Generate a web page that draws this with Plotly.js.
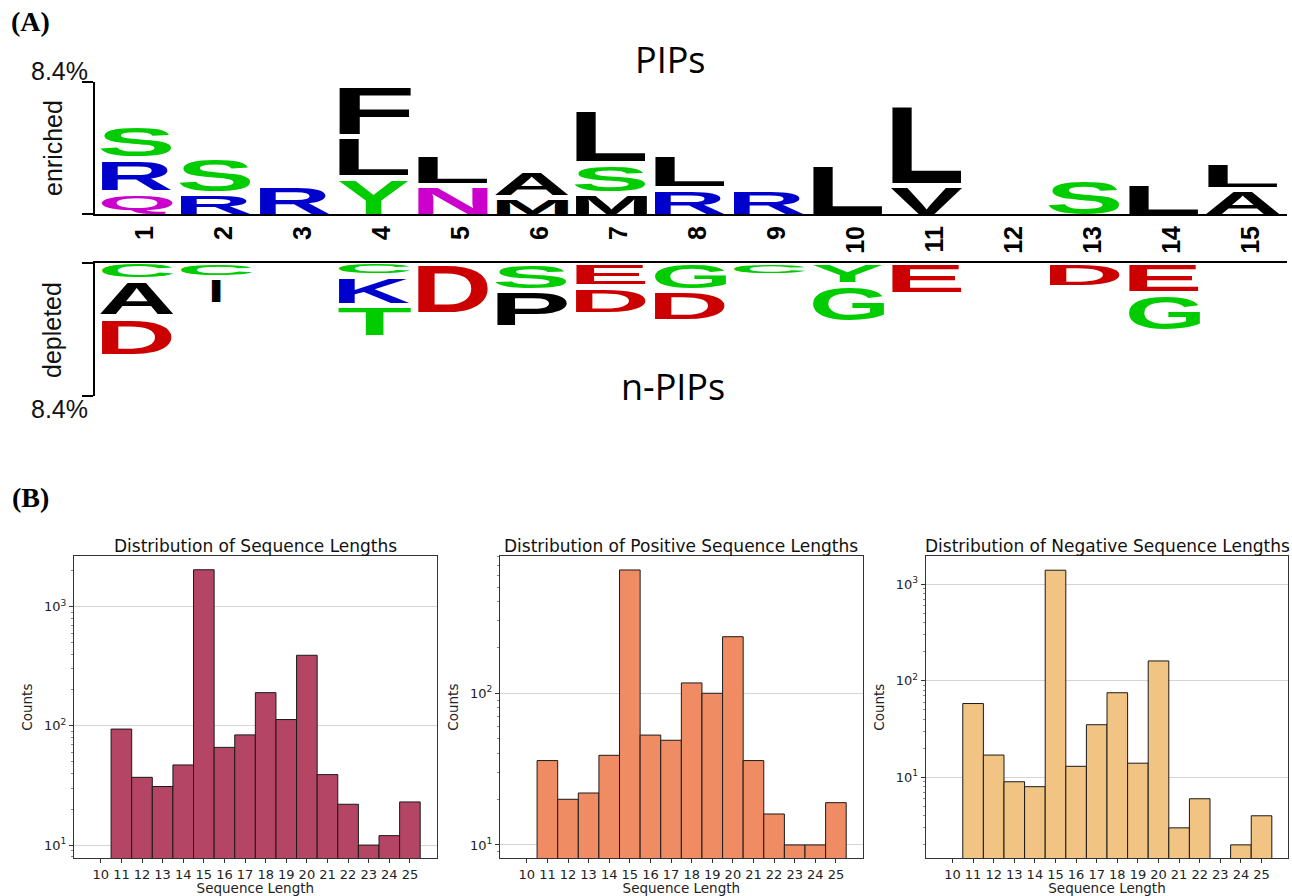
<!DOCTYPE html>
<html>
<head>
<meta charset="utf-8">
<script src="https://cdn.plot.ly/plotly-3.0.1.min.js"></script>
<style>
html,body{margin:0;padding:0;background:#fff;}
#chart{width:1292px;height:896px;}
</style>
</head>
<body>
<div id="chart"></div>
<script>
// ---------------- DATA ----------------
// (A) sequence logo: positions, letters stacked from the baseline outward, heights in %
const positions = [1, 2, 3, 4, 5, 6, 7, 8, 9, 10, 11, 12, 13, 14, 15];
const positionLabels = ['1','2','3','4','5','6','7','8','9','10','11','12','13','14','15'];
const logoMax = 8.4;
const logoMaxLabel = '8.4%';

const enrichedLetters = [
  ['Q','R','S'], ['R','S'], ['R'], ['Y','L','F'], ['N','L'], ['M','A'], ['M','S','L'],
  ['R','L'], ['R'], ['L'], ['V','L'], [], ['S'], ['L'], ['A','L']
];
const enrichedHeights = [
  [1.37, 2.17, 2.19], [1.31, 2.29], [1.81], [2.30, 2.65, 3.32], [1.79, 1.99], [1.05, 1.71],
  [1.31, 1.91, 3.46], [1.58, 2.24], [1.59], [3.18], [1.79, 5.21], [], [2.23], [2.02], [1.53, 1.76]
];
const depletedLetters = [
  ['C','A','D'], ['C','I'], [], ['C','K','T'], ['D'], ['S','P'], ['E','D'],
  ['G','D'], ['C'], ['Y','G'], ['E'], [], ['D'], ['E','G'], []
];
const depletedHeights = [
  [1.06, 2.33, 2.50], [0.90, 1.71], [], [0.80, 1.86, 2.02], [3.25], [1.70, 2.40], [1.49, 1.77],
  [1.72, 1.95], [0.77], [1.35, 2.43], [1.98], [], [1.55], [1.91, 2.40], []
];

// (B) histograms of sequence lengths
const lengths = [11, 12, 13, 14, 15, 16, 17, 18, 19, 20, 21, 22, 23, 24, 25];
const lengthTicks = [10, 11, 12, 13, 14, 15, 16, 17, 18, 19, 20, 21, 22, 23, 24, 25];
const totalCounts    = [94, 37, 31, 47, 2040, 66, 84, 190, 113, 391, 39, 22, 10, 12, 23];
const positiveCounts = [36, 20, 22, 39, 650, 53, 49, 117, 100, 236, 36, 16, 10, 10, 19];
const negativeCounts = [58, 17, 9, 8, 1390, 13, 35, 75, 14, 160, 3, 6, null, 2, 4];
const countTickVals = [10, 100, 1000];
const countTickText = ['10<sup>1</sup>', '10<sup>2</sup>', '10<sup>3</sup>'];
const histTitles = ['Distribution of Sequence Lengths', 'Distribution of Positive Sequence Lengths', 'Distribution of Negative Sequence Lengths'];

// ---------------- STYLE / LAYOUT HELPERS ----------------
const W = 1292, H = 896;
const px = x => x / W;
const py = y => (H - y) / H;

const residueColors = {
  G: '#00cc00', S: '#00cc00', T: '#00cc00', Y: '#00cc00', C: '#00cc00',
  N: '#cc00cc', Q: '#cc00cc',
  K: '#0000cc', R: '#0000cc', H: '#0000cc',
  D: '#cc0000', E: '#cc0000'
};
const colorOf = l => residueColors[l] || '#000000';

const LETTER_FONT = 40;
const COL_HALF = 0.465;
const NARROW_HALF = { I: 0.065 };
const PAD = 0.17;
const LABEL_SHIFT = 0.1;

const annotations = [];
const letterBoxes = [];

function addStacks(lettersArr, heightsArr, yref, yaName, startPad) {
  positions.forEach((p, i) => {
    let c = 0;
    lettersArr[i].forEach((letter, j) => {
      const h = heightsArr[i][j];
      const y0 = c + (j === 0 ? startPad : PAD);
      const y1 = c + h - PAD;
      c += h;
      const half = NARROW_HALF[letter] || COL_HALF;
      letterBoxes.push({ idx: annotations.length, letter: letter, xa: 'xaxis', ya: yaName,
        x0: p - half, x1: p + half, y0: y0, y1: y1 });
      annotations.push({
        xref: 'x', yref: yref, x: p, y: (y0 + y1) / 2, text: letter, showarrow: false,
        xanchor: 'center', yanchor: 'middle',
        font: { family: 'Liberation Sans', size: LETTER_FONT, weight: 'bold', color: colorOf(letter) }
      });
    });
  });
}
addStacks(enrichedLetters, enrichedHeights, 'y', 'yaxis', 0);
addStacks(depletedLetters, depletedHeights, 'y2', 'yaxis2', 0.1);

function paperText(text, x, y, font, extra) {
  annotations.push(Object.assign({
    xref: 'paper', yref: 'paper', x: px(x), y: py(y), text: text, showarrow: false,
    xanchor: 'center', yanchor: 'middle', font: font
  }, extra || {}));
}
const sansLabel = { family: 'Liberation Sans', size: 25, color: '#111' };
const titleFont = { family: 'Open Sans', size: 36, color: '#000' };
const panelFont = { family: 'Liberation Serif', size: 28, weight: 'bold', color: '#000' };
paperText('(A)', 30, 22, panelFont);
paperText('(B)', 30, 497, panelFont);
paperText('PIPs', 670, 59, titleFont);
paperText('n-PIPs', 673, 386, titleFont);
paperText('enriched', 53, 148, sansLabel, { textangle: -90 });
paperText('depleted', 52, 330, sansLabel, { textangle: -90 });
paperText(logoMaxLabel, 59, 71.5, sansLabel);
paperText(logoMaxLabel, 59, 409.3, sansLabel);

const histFrames = [[74, 436.7], [500, 862.7], [925.7, 1288.3]];
const histTitleFont = { family: 'DejaVu Sans', size: 17, color: '#111' };
histFrames.forEach((f, k) => paperText(histTitles[k], (f[0] + f[1]) / 2, 546, histTitleFont));

// ---------------- TRACES ----------------
const histColors = ['#b54564', '#f08c64', '#f1c483'];
const histSeries = [totalCounts, positiveCounts, negativeCounts];
const data = [
  { type: 'scatter', x: [], y: [], xaxis: 'x', yaxis: 'y', hoverinfo: 'skip', showlegend: false },
  { type: 'scatter', x: [], y: [], xaxis: 'x2', yaxis: 'y2', hoverinfo: 'skip', showlegend: false }
];
histSeries.forEach((vals, k) => {
  data.push({
    type: 'bar', x: lengths, y: vals, width: 1,
    xaxis: 'x' + (k + 3), yaxis: 'y' + (k + 3),
    marker: { color: histColors[k], line: { color: '#1a1a1a', width: 1 } },
    showlegend: false
  });
});

// ---------------- LAYOUT ----------------
const logoX0 = 95, logoX1 = 1287, col1Center = 137, colPitch = 79;
const xLo = 1 + (logoX0 - col1Center) / colPitch;
const xHi = 1 + (logoX1 - col1Center) / colPitch;

const layout = {
  width: W, height: H,
  margin: { l: 0, r: 0, t: 0, b: 0, pad: 0 },
  paper_bgcolor: '#ffffff', plot_bgcolor: 'rgba(0,0,0,0)',
  showlegend: false, bargap: 0,
  font: { family: 'DejaVu Sans', color: '#222' },
  xaxis: {
    domain: [px(logoX0), px(logoX1)], range: [xLo, xHi], anchor: 'y',
    showline: true, linecolor: '#000', linewidth: 2, showgrid: false, zeroline: false,
    ticks: '', tickvals: positions.map(p => p + LABEL_SHIFT), ticktext: positionLabels,
    tickangle: -90, ticklabelstandoff: 0,
    tickfont: { family: 'Liberation Sans', size: 25, weight: 'bold', color: '#000' }
  },
  yaxis: {
    domain: [py(214), py(82)], range: [0, logoMax], anchor: 'x',
    showline: true, linecolor: '#000', linewidth: 2, showgrid: false, zeroline: false,
    ticks: 'outside', ticklen: 11, tickwidth: 2, tickcolor: '#000',
    tickvals: [0, logoMax], showticklabels: false
  },
  xaxis2: {
    domain: [px(logoX0), px(logoX1)], range: [xLo, xHi], anchor: 'y2', side: 'top',
    showline: true, linecolor: '#000', linewidth: 2, showgrid: false, zeroline: false,
    ticks: '', showticklabels: false
  },
  yaxis2: {
    domain: [py(396), py(263.4)], range: [logoMax, 0], anchor: 'x2',
    showline: true, linecolor: '#000', linewidth: 2, showgrid: false, zeroline: false,
    ticks: 'outside', ticklen: 11, tickwidth: 2, tickcolor: '#000',
    tickvals: [0, logoMax], showticklabels: false
  },
  annotations: annotations
};

const histYRanges = [[0.889, 3.425], [0.912, 2.905], [0.162, 3.29]];
const minorVals = [];
[1, 10, 100, 1000].forEach(d => { for (let m = 2; m <= 9; m++) minorVals.push(m * d); });
const histTickFont = { family: 'DejaVu Sans', size: 13, color: '#222' };
histFrames.forEach((f, k) => {
  const n = k + 3;
  layout['xaxis' + n] = {
    domain: [px(f[0]), px(f[1])], range: [8.7, 26.3], anchor: 'y' + n,
    tickvals: lengthTicks, ticks: 'outside', ticklen: 4, tickwidth: 1, tickcolor: '#333',
    showline: true, mirror: true, linecolor: '#333', linewidth: 1,
    showgrid: false, zeroline: false,
    tickfont: histTickFont,
    title: { text: 'Sequence Length', font: { family: 'DejaVu Sans', size: 13.5, color: '#222' }, standoff: 3 }
  };
  layout['yaxis' + n] = {
    domain: [py(858.3), py(556)], type: 'log', range: histYRanges[k], anchor: 'x' + n,
    tickvals: countTickVals, ticktext: countTickText,
    ticks: 'outside', ticklen: 4, tickwidth: 1, tickcolor: '#333',
    minor: { tickvals: minorVals, ticks: 'outside', ticklen: 2, tickwidth: 0.7, tickcolor: '#555', showgrid: false },
    showline: true, mirror: true, linecolor: '#333', linewidth: 1,
    showgrid: true, gridcolor: '#d4d4d4', gridwidth: 1, zeroline: false,
    tickfont: histTickFont,
    title: { text: 'Counts', font: { family: 'DejaVu Sans', size: 13.5, color: '#222' }, standoff: 8 }
  };
});

// ---------------- RENDER ----------------
function stretchLetters(gd) {
  const fl = gd._fullLayout;
  const ctx = document.createElement('canvas').getContext('2d');
  letterBoxes.forEach(b => {
    const g = gd.querySelector('g.annotation[data-index="' + b.idx + '"]');
    if (!g) return;
    const t = g.querySelector('text.annotation-text');
    if (!t) return;
    const xa = fl[b.xa], ya = fl[b.ya];
    let L = xa._offset + xa.l2p(b.x0), R = xa._offset + xa.l2p(b.x1);
    let T = ya._offset + ya.l2p(b.y1), B = ya._offset + ya.l2p(b.y0);
    if (T > B) { const s = T; T = B; B = s; }
    if (L > R) { const s = L; L = R; R = s; }
    ctx.font = 'bold ' + LETTER_FONT + 'px "Liberation Sans"';
    const m = ctx.measureText(b.letter);
    const bb = t.getBBox();
    const fA = m.fontBoundingBoxAscent, fD = m.fontBoundingBoxDescent;
    const base = bb.y + bb.height * fA / (fA + fD);
    const iL = bb.x - m.actualBoundingBoxLeft, iR = bb.x + m.actualBoundingBoxRight;
    const iT = base - m.actualBoundingBoxAscent, iB = base + m.actualBoundingBoxDescent;
    const M = t.getCTM();
    const tL = (L - M.e) / M.a, tR = (R - M.e) / M.a;
    const tT = (T - M.f) / M.d, tB = (B - M.f) / M.d;
    const sx = (tR - tL) / (iR - iL), sy = (tB - tT) / (iB - iT);
    const tx = tL - sx * iL, ty = tT - sy * iT;
    const prev = t.getAttribute('transform') || '';
    t.setAttribute('transform', (prev + ' matrix(' + [sx, 0, 0, sy, tx, ty].join(',') + ')').trim());
  });
}

const gd = document.getElementById('chart');
Plotly.newPlot(gd, data, layout, { staticPlot: true, displayModeBar: false }).then(() => stretchLetters(gd));
</script>
</body>
</html>
